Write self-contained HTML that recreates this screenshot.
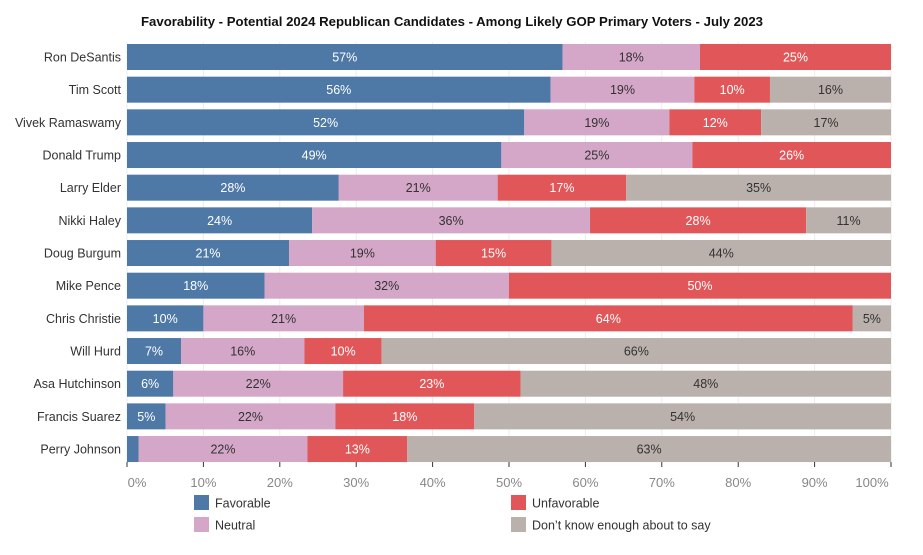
<!DOCTYPE html>
<html><head><meta charset="utf-8"><style>
body{margin:0;background:#fff;font-family:"Liberation Sans",sans-serif;}
svg text{font-family:"Liberation Sans",sans-serif;}
</style></head><body>
<svg id="chart" width="923" height="550">
<text x="452" y="26" text-anchor="middle" font-size="13" font-weight="bold" fill="#111" textLength="622" lengthAdjust="spacingAndGlyphs">Favorability - Potential 2024 Republican Candidates - Among Likely GOP Primary Voters -  July 2023</text>
<g id="grid"></g><g id="bars"></g><g id="axis"></g><g id="legend"></g>
</svg>
<script>
const candidates=["Ron DeSantis","Tim Scott","Vivek Ramaswamy","Donald Trump","Larry Elder","Nikki Haley","Doug Burgum","Mike Pence","Chris Christie","Will Hurd","Asa Hutchinson","Francis Suarez","Perry Johnson"];
const favorable=[57,56,52,49,28,24,21,18,10,7,6,5,1.5];
const neutral=[18,19,19,25,21,36,19,32,21,16,22,22,22];
const unfavorable=[25,10,12,26,17,28,15,50,64,10,23,18,13];
const dontKnow=[0,16,17,0,35,11,44,0,5,66,48,54,63];
const ticks=[0,10,20,30,40,50,60,70,80,90,100];
const seriesNames=["Favorable","Neutral","Unfavorable","Don’t know enough about to say"];
const colors=["#4e79a7","#d4a6c8","#e15759","#bab0ac"];
const textColors=["#fff","#333","#fff","#333"];
const NS="http://www.w3.org/2000/svg";
const x0=127,x1=891,rowTop=57,rowStep=32.67,barH=26;
const xs=v=>x0+(x1-x0)*v/100;
const yc=i=>rowTop+i*rowStep;
function mk(tag,attrs,parent){const e=document.createElementNS(NS,tag);for(const k in attrs)e.setAttribute(k,attrs[k]);parent.appendChild(e);return e;}
const grid=document.getElementById('grid'),bars=document.getElementById('bars'),axis=document.getElementById('axis'),legend=document.getElementById('legend');
ticks.forEach((t,j)=>{
 const l=mk('line',{x1:xs(t),x2:xs(t),y1:42,y2:462,stroke:'#ececec','stroke-width':1},grid);
 
 
 const tk=mk('line',{x1:xs(t),x2:xs(t),y1:462,y2:467,stroke:'#333','stroke-width':1},axis);
 
 
 const off=j===0?10:(j===ticks.length-1?-19:0);
 const tx=mk('text',{x:xs(t)+off,y:487,'text-anchor':'middle','font-size':13,fill:'#888'},axis);
 tx.textContent=t+'%';
 
 
});
const series=[favorable,neutral,unfavorable,dontKnow];
candidates.forEach((c,i)=>{
 const lab=mk('text',{x:121,y:yc(i)+4.5,'text-anchor':'end','font-size':12.5,fill:'#333'},bars);
 lab.textContent=c;
 
 
 const total=series.reduce((s,a)=>s+a[i],0);
 let acc=0;
 series.forEach((arr,k)=>{
  const v=arr[i];if(v<=0)return;
  const a=xs(acc/total*100),b=xs((acc+v)/total*100);acc+=v;
  const r=mk('rect',{x:a,y:yc(i)-barH/2,width:b-a,height:barH,fill:colors[k]},bars);
  
  
  if(v>=3){
   const t=mk('text',{x:(a+b)/2,y:yc(i)+4.5,'text-anchor':'middle','font-size':12.5,fill:textColors[k]},bars);
   t.textContent=v+'%';
   
   
  }
 });
});
const legPos=[[194,495],[194,517],[511,495],[511,517]];
seriesNames.forEach((n,k)=>{
 const [lx,ly]=legPos[k];
 const r=mk('rect',{x:lx,y:ly,width:15,height:15,fill:colors[k]},legend);
 
 
 const t=mk('text',{x:lx+21,y:ly+12.5,'font-size':12.5,fill:'#333'},legend);
 t.textContent=n;
 
 
});
</script>
</body></html>
